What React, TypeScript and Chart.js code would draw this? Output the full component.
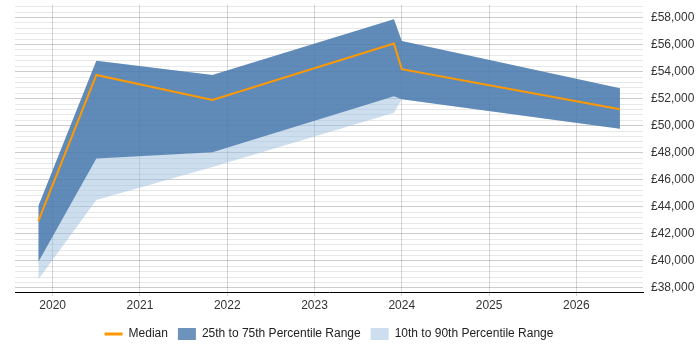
import React, { useEffect, useRef } from "react";
import { Chart, registerables } from "chart.js";

Chart.register(...registerables);

// Observation dates (as decimal years)
const dates: number[] = [2019.835, 2020.5, 2021.83, 2023.91, 2024.0, 2026.5];
const median: number[] = [42950, 53750, 51900, 56070, 54180, 51220];
const p75: number[] = [44050, 54800, 53750, 57880, 56270, 52770];
const p25: number[] = [39920, 47580, 48030, 52170, 51950, 49780];
const p90: number[] = [44050, 54800, 53750, 57880, 56270, 52770];
const p10: number[] = [38620, 44500, 46940, 50960, 51950, 49780];
const yearTicks: number[] = [2020, 2021, 2022, 2023, 2024, 2025, 2026];

const pts = (vals: number[]) => vals.map((y, i) => ({ x: dates[i], y }));

const legendCenterPlugin = {
  id: "legendCenter",
  afterLayout(chart: any) {
    const lg = chart.legend;
    const ca = chart.chartArea;
    if (!lg || !ca) return;
    const shift = (ca.left + ca.right) / 2 - (lg.left + lg.right) / 2;
    lg.left += shift;
    lg.right += shift;
  },
};

export default function App() {
  const ref = useRef<HTMLCanvasElement | null>(null);
  useEffect(() => {
    document.body.style.margin = "0";
    if (!ref.current) return;
    const font = "'Liberation Sans', Arial, sans-serif";
    const yTicks: number[] = [];
    for (let v = 38000; v <= 58800; v += 400) yTicks.push(v);
    const chart = new Chart(ref.current, {
      type: "line",
      plugins: [legendCenterPlugin],
      data: {
        datasets: [
          {
            label: "Median",
            data: pts(median),
            borderColor: "rgb(255,153,0)",
            backgroundColor: "rgb(255,153,0)",
            borderWidth: 2,
            pointRadius: 0,
            fill: false,
            tension: 0,
          },
          {
            label: "25th to 75th Percentile Range",
            data: pts(p75),
            borderWidth: 0,
            borderColor: "rgba(0,0,0,0)",
            backgroundColor: "rgba(60,110,165,0.75)",
            pointRadius: 0,
            fill: "+1",
          },
          {
            label: "p25",
            data: pts(p25),
            borderWidth: 0,
            borderColor: "rgba(0,0,0,0)",
            pointRadius: 0,
            fill: false,
          },
          {
            label: "10th to 90th Percentile Range",
            data: pts(p90),
            borderWidth: 0,
            borderColor: "rgba(0,0,0,0)",
            backgroundColor: "rgba(155,190,222,0.5)",
            pointRadius: 0,
            fill: "+1",
          },
          {
            label: "p10",
            data: pts(p10),
            borderWidth: 0,
            borderColor: "rgba(0,0,0,0)",
            pointRadius: 0,
            fill: false,
          },
        ],
      },
      options: {
        responsive: false,
        animation: false,
        layout: { padding: { left: 15, top: 5, right: 0, bottom: 0 } },
        font: { family: font },
        scales: {
          x: {
            type: "linear",
            min: 2019.568,
            max: 2026.764,
            afterBuildTicks: (s: any) => {
              s.ticks = yearTicks.map((v) => ({ value: v }));
            },
            afterFit: (s: any) => {
              s.height = 26;
              s.paddingLeft = 0;
              s.paddingRight = 0;
            },
            ticks: {
              autoSkip: false,
              maxRotation: 0,
              padding: 2,
              color: "#333",
              font: { family: font, size: 12 },
              callback: (v: any) => String(v),
            },
            grid: {
              color: "rgba(0,0,0,0.16)",
              tickLength: 4,
              tickColor: "rgba(0,0,0,0.16)",
            },
            border: { display: true, color: "#000", width: 1 },
          },
          y: {
            position: "right",
            min: 37700,
            max: 58925,
            afterBuildTicks: (s: any) => {
              s.ticks = yTicks.map((v) => ({ value: v }));
            },
            afterFit: (s: any) => {
              s.width = 57;
              s.paddingTop = 0;
              s.paddingBottom = 0;
            },
            ticks: {
              autoSkip: false,
              padding: 8,
              color: "#333",
              font: { family: font, size: 12 },
              callback: (v: any) =>
                Number(v) % 2000 === 0 ? "£" + Number(v).toLocaleString("en-GB") : "",
            },
            grid: {
              drawTicks: false,
              color: (ctx: any) =>
                ctx.tick && ctx.tick.value % 2000 === 0 ? "rgba(0,0,0,0.2)" : "rgba(0,0,0,0.09)",
            },
            border: { display: false },
          },
        },
        plugins: {
          tooltip: { enabled: false },
          legend: {
            position: "bottom",
            labels: {
              font: { family: font, size: 12 },
              color: "#222",
              boxWidth: 15,
              boxHeight: 12,
              padding: 10,
              usePointStyle: true,
              pointStyleWidth: 18,
              filter: (item: any) => item.text !== "p25" && item.text !== "p10",
              generateLabels: (c: any) => {
                const items = Chart.defaults.plugins.legend.labels.generateLabels(c);
                return items.map((it: any) => {
                  if (it.datasetIndex === 0) {
                    return { ...it, pointStyle: "line", lineWidth: 3, strokeStyle: "rgb(255,153,0)" };
                  }
                  return { ...it, pointStyle: "rect", lineWidth: 0, strokeStyle: "rgba(0,0,0,0)" };
                });
              },
            },
          },
        },
      } as any,
    });
    return () => chart.destroy();
  }, []);
  return <canvas ref={ref} width={700} height={350} style={{ display: "block" }} />;
}
